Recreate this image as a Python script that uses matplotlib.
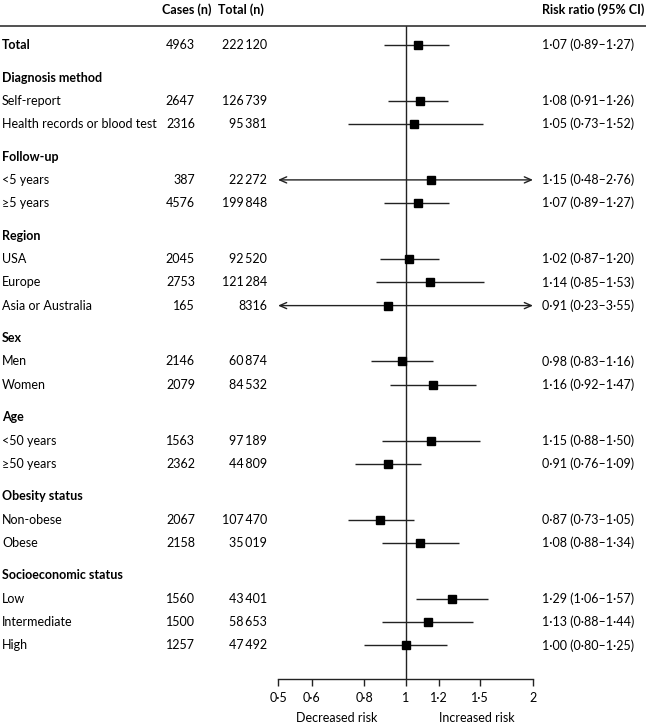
import numpy as np
import matplotlib
matplotlib.use("Agg")
import matplotlib.pyplot as plt
from matplotlib.lines import Line2D
from matplotlib.transforms import blended_transform_factory

plt.rcParams['font.family'] = ['Lato', 'DejaVu Sans']

group_titles = [None, "Diagnosis method", "Follow-up", "Region", "Sex", "Age",
                "Obesity status", "Socioeconomic status"]
group_sizes = [1, 2, 2, 3, 2, 2, 2, 3]

row_labels = ["Total", "Self-report", "Health records or blood test",
              "<5 years", "≥5 years", "USA", "Europe", "Asia or Australia",
              "Men", "Women", "<50 years", "≥50 years", "Non-obese", "Obese",
              "Low", "Intermediate", "High"]
cases = [4963, 2647, 2316, 387, 4576, 2045, 2753, 165, 2146, 2079, 1563, 2362,
         2067, 2158, 1560, 1500, 1257]
totals = [222120, 126739, 95381, 22272, 199848, 92520, 121284, 8316, 60874,
          84532, 97189, 44809, 107470, 35019, 43401, 58653, 47492]
rr = [1.07, 1.08, 1.05, 1.15, 1.07, 1.02, 1.14, 0.91, 0.98, 1.16, 1.15, 0.91,
      0.87, 1.08, 1.29, 1.13, 1.00]
lo = [0.89, 0.91, 0.73, 0.48, 0.89, 0.87, 0.85, 0.23, 0.83, 0.92, 0.88, 0.76,
      0.73, 0.88, 1.06, 0.88, 0.80]
hi = [1.27, 1.26, 1.52, 2.76, 1.27, 1.20, 1.53, 3.55, 1.16, 1.47, 1.50, 1.09,
      1.05, 1.34, 1.57, 1.44, 1.25]

ticks = [0.5, 0.6, 0.8, 1, 1.2, 1.5, 2]
tick_labels = ["0·5", "0·6", "0·8", "1", "1·2", "1·5", "2"]


def fmt_n(n):
    if n < 10000:
        return str(n)
    return f"{n:,}".replace(",", "\u2009")


def fmt_d(v):
    return f"{v:.2f}".replace(".", "·")


W, H = 646, 723
fig = plt.figure(figsize=(W / 100, H / 100), dpi=100)

x0, x1, ytop, ybot = 278, 533, 26, 679
ax = fig.add_axes([x0 / W, 1 - ybot / H, (x1 - x0) / W, (ybot - ytop) / H])
ax.set_xscale('log')
ax.set_xlim(0.5, 2)
ax.set_ylim(ybot, ytop)
ax.patch.set_alpha(0)

tr = blended_transform_factory(fig.transFigure, ax.transData)
fs = 9
lc = '#222222'

# row positions, in pixels from the top
ys = []
title_ys = []
y = 45
for title, size in zip(group_titles, group_sizes):
    if title is not None:
        y += 32.5
        title_ys.append((title, y))
        y += 23.3
    for i in range(size):
        ys.append(y)
        if i < size - 1:
            y += 23.3

for title, ty in title_ys:
    ax.text(2 / W, ty, title, transform=tr, fontsize=fs, fontweight='bold',
            ha='left', va='center')

for i, yy in enumerate(ys):
    ax.text(2 / W, yy, row_labels[i], transform=tr, fontsize=fs,
            fontweight='bold' if i == 0 else 'normal', ha='left', va='center')
    ax.text(195 / W, yy, fmt_n(cases[i]), transform=tr, fontsize=fs,
            ha='right', va='center')
    ax.text(267 / W, yy, fmt_n(totals[i]), transform=tr, fontsize=fs,
            ha='right', va='center')
    ax.text(542 / W, yy, f"{fmt_d(rr[i])} ({fmt_d(lo[i])}–{fmt_d(hi[i])})",
            transform=tr, fontsize=fs, ha='left', va='center')

    a, b = max(lo[i], 0.5), min(hi[i], 2)
    if lo[i] < 0.5 or hi[i] > 2:
        style = ('<' if lo[i] < 0.5 else '') + '-' + ('>' if hi[i] > 2 else '')
        ax.annotate('', xy=(b, yy), xytext=(a, yy),
                    arrowprops=dict(arrowstyle=style + ',head_length=0.5,head_width=0.22',
                                    color=lc, lw=1, shrinkA=0, shrinkB=0))
    else:
        ax.plot([a, b], [yy, yy], color=lc, lw=1, solid_capstyle='butt')
    ax.plot(rr[i], yy, marker='s', ms=6.2, color='black', zorder=3)

# headers
hy = 10
ax.text(162 / W, hy, "Cases (n)", transform=tr, fontsize=fs, fontweight='bold',
        ha='left', va='center')
ax.text(218 / W, hy, "Total (n)", transform=tr, fontsize=fs, fontweight='bold',
        ha='left', va='center')
ax.text(542 / W, hy, "Risk ratio (95% CI)", transform=tr, fontsize=fs,
        fontweight='bold', ha='left', va='center')

fig.add_artist(Line2D([0, 1], [1 - ytop / H] * 2, transform=fig.transFigure,
                      color='#333333', lw=1.2))

ax.axvline(1, color=lc, lw=1)

for s in ['top', 'left', 'right']:
    ax.spines[s].set_visible(False)
ax.spines['bottom'].set_color(lc)
ax.spines['bottom'].set_linewidth(1)
ax.set_yticks([])
ax.xaxis.set_minor_locator(matplotlib.ticker.NullLocator())
ax.set_xticks(ticks)
ax.set_xticklabels(tick_labels)
ax.tick_params(axis='x', length=5, width=1, color=lc, labelsize=fs, pad=4)

bt = blended_transform_factory(ax.transAxes, ax.transData)
ax.text(0.23, 718, "Decreased risk", transform=bt, fontsize=fs,
        ha='center', va='center')
ax.text(0.78, 718, "Increased risk", transform=bt, fontsize=fs,
        ha='center', va='center')

fig.savefig('out.png', dpi=100)
